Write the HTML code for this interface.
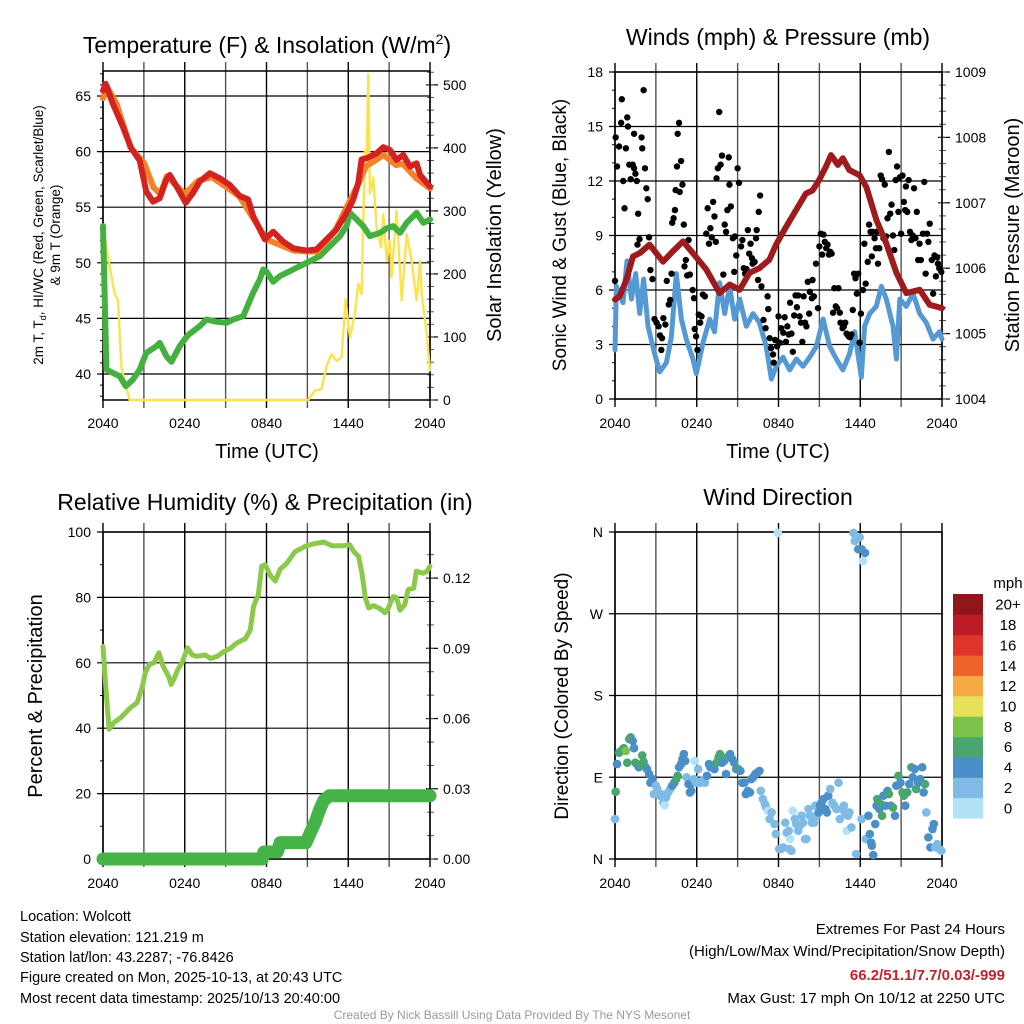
<!DOCTYPE html>
<html><head><meta charset="utf-8"><style>
html,body{margin:0;padding:0;background:#fff;}
svg{display:block;font-family:"Liberation Sans",sans-serif;}
</style></head><body>
<svg id="fig" width="1024" height="1024" viewBox="0 0 1024 1024" xmlns="http://www.w3.org/2000/svg">
<rect width="1024" height="1024" fill="#fff"/>
<g id="p1"></g>
<g id="p2"></g>
<g id="p3"></g>
<g id="p4"></g>
<g font-size="23" text-anchor="middle">
<text x="267" y="53">Temperature (F) &amp; Insolation (W/m<tspan font-size="14" dy="-9">2</tspan><tspan dy="9">)</tspan></text>
<text x="778" y="45">Winds (mph) &amp; Pressure (mb)</text>
<text x="265" y="510">Relative Humidity (%) &amp; Precipitation (in)</text>
<text x="778" y="505">Wind Direction</text>
</g>
<g text-anchor="middle">
<text x="267" y="458" font-size="20">Time (UTC)</text>
<text x="778" y="458" font-size="20">Time (UTC)</text>
<text font-size="13.5" transform="translate(43,235) rotate(-90)">2m T, T<tspan font-size="9" dy="3">d</tspan><tspan dy="-3">, HI/WC (Red, Green, Scarlet/Blue)</tspan></text>
<text font-size="13.5" transform="translate(60,235) rotate(-90)">&amp; 9m T (Orange)</text>
<text font-size="20" transform="translate(501,235) rotate(-90)">Solar Insolation (Yellow)</text>
<text font-size="19" transform="translate(566,235) rotate(-90)">Sonic Wind &amp; Gust (Blue, Black)</text>
<text font-size="20" transform="translate(1019,235) rotate(-90)">Station Pressure (Maroon)</text>
<text font-size="20" transform="translate(42,696) rotate(-90)">Percent &amp; Precipitation</text>
<text font-size="19" transform="translate(568,696) rotate(-90)">Direction (Colored By Speed)</text>
</g>
<g font-size="14.5">
<text x="20" y="921">Location: Wolcott</text>
<text x="20" y="942">Station elevation: 121.219 m</text>
<text x="20" y="962">Station lat/lon: 43.2287; -76.8426</text>
<text x="20" y="982">Figure created on Mon, 2025-10-13, at 20:43 UTC</text>
<text x="20" y="1003">Most recent data timestamp: 2025/10/13 20:40:00</text>
</g>
<g font-size="15" text-anchor="end">
<text x="1005" y="934">Extremes For Past 24 Hours</text>
<text x="1005" y="956">(High/Low/Max Wind/Precipitation/Snow Depth)</text>
<text x="1005" y="980" fill="#c8202a" font-weight="bold">66.2/51.1/7.7/0.03/-999</text>
<text x="1005" y="1003">Max Gust: 17 mph On 10/12 at 2250 UTC</text>
</g>
<text x="512" y="1019" font-size="12" fill="#999" text-anchor="middle">Created By Nick Bassill Using Data Provided By The NYS Mesonet</text>
</svg>
<script>
// ---- data (hours since 2040 UTC) ----
const tempT=[0,0.2,0.73,1.47,2.08,2.69,3.18,3.67,4.16,4.65,4.9,5.39,6.07,6.61,7.1,7.84,8.57,9.31,10.04,10.65,11.02,11.51,11.88,12.49,13.23,13.96,14.94,15.67,16.41,17.14,17.88,18.37,18.74,18.98,19.35,20.08,20.57,21.06,21.55,22.04,22.53,23.02,23.27,24];
const tempV=[65.5,66.1,64.3,62.2,60.3,59.2,56.4,55.5,55.8,57.5,57.9,56.9,55.4,56.3,57.3,58.05,57.6,57.0,56.0,55.7,54.2,53.0,52.1,52.8,51.9,51.3,51.1,51.2,52.1,53.0,54.5,55.7,57.2,59.3,59.4,59.85,60.4,60.15,59.25,59.7,58.65,58.95,57.9,56.85];
const t9T=[0,0.3,1,2,3,3.7,4.2,4.7,5.4,6,7,8,10,12,14,15.7,17,18,18.7,19.3,20.1,20.6,21.5,22,23,24];
const t9V=[64.8,65.8,64.3,60.4,59.0,56.8,56.2,57.8,56.9,56.2,57.4,57.7,56.0,52.1,51.1,51.0,52.8,55.3,57.0,58.7,59.3,59.7,58.8,58.9,57.6,56.7];
const dewT=[0,0.12,0.25,0.73,1.22,1.67,2.2,2.69,3.18,3.92,4.16,4.65,5.02,5.63,6.24,7.1,7.59,8.33,9.06,9.55,10.29,11.02,11.51,11.76,12.0,12.49,12.98,13.96,14.94,15.92,16.65,17.39,17.88,18.12,18.61,19.1,19.59,20.33,20.82,21.31,21.8,22.29,23.02,23.51,24];
const dewV=[53.3,47.3,40.4,40.1,39.8,38.9,39.5,40.4,41.9,42.5,42.8,41.6,41.1,42.5,43.5,44.3,44.9,44.7,44.6,44.9,45.2,47.3,48.5,49.4,49.2,48.3,48.8,49.4,50.0,50.6,51.5,52.4,53.3,54.5,53.9,53.3,52.4,52.7,53.1,53.3,52.7,53.6,54.5,53.6,53.9];
const solT=[0,0.49,0.86,1.1,1.35,1.71,1.96,15.06,15.55,16.04,16.41,16.78,17.14,17.51,17.8,18.12,18.49,18.73,18.98,19.22,19.35,19.47,19.59,19.84,20.08,20.41,20.57,20.82,21.06,21.18,21.55,21.92,22.29,22.65,23.02,23.27,23.39,23.76,24];
const solV=[274,211,168,158,52,20,0,0,15,17,54,73,62,68,160,99,137,184,168,396,380,517,327,353,274,242,295,221,253,195,300,158,263,221,158,221,168,105,47];
const presT=[0,0.34,0.83,1.32,1.81,2.54,3.52,4.26,4.99,5.72,6.7,7.68,8.41,9.15,9.88,10.6,11.33,11.82,12.55,13.29,14.0,14.5,14.99,15.48,15.85,16.36,16.72,17.2,17.96,18.45,19.18,19.91,20.65,21.38,22.36,23.1,24];
const presV=[1005.52,1005.57,1005.82,1006.18,1006.23,1006.36,1006.10,1006.26,1006.41,1006.23,1005.98,1005.62,1005.75,1005.67,1005.93,1006.0,1006.13,1006.36,1006.63,1006.89,1007.14,1007.19,1007.35,1007.55,1007.73,1007.58,1007.68,1007.50,1007.42,1007.24,1006.74,1006.38,1005.93,1005.62,1005.67,1005.44,1005.39];
const windT=[0,0.1,0.59,0.88,1.2,1.52,1.81,2.1,2.42,2.91,3.28,3.77,4.13,4.5,4.87,5.23,5.72,5.97,6.46,6.95,7.3,7.68,8.05,8.41,8.78,9.15,9.64,10.13,10.6,11.1,11.48,11.84,12.33,12.82,13.31,13.8,14.29,14.78,15.27,15.75,16.24,16.73,17.22,17.59,18.08,18.32,18.69,19.18,19.55,19.91,20.4,20.65,20.9,21.38,21.87,22.36,22.85,23.34,23.82,24];
const windV=[2.7,6.2,5.3,7.6,5.5,6.9,4.7,6.6,4.0,2.5,1.5,2.0,3.4,6.9,4.4,3.3,2.2,1.4,3.1,4.4,3.7,6.4,4.7,6.2,4.4,5.5,4.0,4.7,4.2,2.9,1.1,1.8,2.3,1.6,2.2,1.8,2.3,2.9,4.4,2.9,2.2,1.6,2.5,3.7,1.2,4.0,4.7,5.1,6.2,5.5,4.0,2.2,5.5,5.1,5.8,4.7,4.2,3.3,3.7,3.3];
const gustT=[0,0.05,0.15,0.3,0.45,0.5,0.6,0.7,0.8,0.9,0.95,1.05,1.15,1.3,1.4,1.4,1.5,1.6,1.7,1.8,1.65,1.95,2.0,2.1,2.2,2.3,2.4,2.5,2.6,2.75,2.9,3.05,3.2,3.3,3.4,3.45,3.55,3.7,3.8,3.95,4.05,4.15,4.2,4.3,4.4,4.45,4.55,4.6,4.7,4.75,4.85,4.95,5.05,5.1,5.2,5.3,5.4,5.5,5.7,5.8,5.85,5.95,6.05,6.15,6.25,6.35,6.45,6.6,6.7,6.8,6.9,7.0,7.1,7.2,7.3,7.4,7.45,7.55,7.65,7.75,7.85,7.95,8.05,8.15,8.25,8.35,8.4,8.5,8.65,8.75,8.8,8.9,9.0,9.1,9.25,9.35,9.45,9.55,9.65,9.75,9.85,9.95,10.05,10.1,10.25,10.35,10.4,10.5,10.55,10.65,10.75,10.9,11.05,11.2,11.25,11.35,11.45,11.6,11.65,11.75,11.9,12.0,12.1,12.2,12.35,12.45,12.55,12.65,12.75,12.85,12.95,13.05,13.15,13.25,13.35,13.45,13.55,13.65,13.75,13.85,13.95,14.05,14.15,14.25,14.3,14.45,14.5,14.6,14.75,14.9,15.0,15.1,15.2,15.3,15.4,15.5,15.6,15.7,15.8,15.9,16.0,16.1,16.2,16.3,16.4,16.5,16.55,16.7,16.8,16.9,17.0,17.05,17.15,17.25,17.35,17.45,17.55,17.65,17.75,17.85,17.95,18.05,18.2,18.3,18.4,18.55,18.65,18.75,18.85,18.9,19.05,19.15,19.2,19.3,19.4,19.5,19.6,19.7,19.8,19.9,20.0,20.1,20.2,20.3,20.4,20.5,20.6,20.7,20.8,20.9,21.0,21.1,21.2,21.3,21.35,21.45,21.55,21.65,21.75,21.85,21.95,22.05,22.15,22.25,22.35,22.45,22.6,22.7,22.8,22.9,23.0,23.1,23.25,23.35,23.45,23.55,23.65,23.7,23.8,23.95];
const gustV=[6.5,14.4,12.8,13.9,15.2,16.5,12.0,10.5,13.8,15.5,15.0,12.9,12.1,12.9,12.7,14.6,12.4,12.0,10.2,8.8,8.5,14.4,13.8,17.0,12.7,11.6,11.0,8.9,7.1,6.6,4.4,4.2,4.0,3.5,2.7,3.35,4.45,4.1,6.5,5.2,5.45,6.9,9.7,9.95,10.4,11.5,12.8,14.6,15.2,11.4,13.1,11.8,9.6,7.3,7.65,6.8,8.75,6.85,6.0,5.55,3.85,3.45,2.7,4.65,4.2,4.55,5.75,5.65,9.1,10.5,8.55,9.4,8.9,10.85,10.05,8.65,12.15,12.7,15.8,12.9,13.4,6.85,9.6,9.2,10.4,13.3,11.8,10.6,8.85,7.0,8.95,7.9,12.7,11.9,8.4,8.75,7.2,6.9,7.15,9.3,8.0,8.55,7.75,7.45,7.55,8.85,9.3,6.55,10.3,11.2,6.2,4.35,3.9,5.65,4.95,3.35,2.8,2.45,2.0,3.25,2.9,4.55,3.1,3.9,3.65,4.5,3.15,4.0,3.55,5.3,3.6,2.6,4.6,5.7,5.05,5.7,4.55,4.2,3.15,5.65,4.2,4.0,6.45,4.7,5.9,5.55,6.55,5.65,7.45,5.0,8.4,9.1,7.95,9.05,8.65,8.3,8.5,7.95,8.1,8.0,4.75,6.1,5.1,5.0,6.1,4.75,4.2,3.9,4.0,4.2,3.6,3.55,3.45,3.4,3.55,4.9,6.9,6.65,5.8,6.9,3.1,4.7,6.0,8.55,6.35,7.55,9.6,9.2,7.85,9.2,8.85,8.3,9.2,7.45,8.3,12.3,12.1,8.85,11.8,8.95,9.95,13.6,10.2,10.7,9.0,8.2,12.05,12.8,10.3,12.2,9.1,12.3,10.85,10.4,11.7,10.3,12.05,9.2,8.75,9.0,11.6,8.85,10.3,7.65,8.55,7.65,9.1,11.95,6.9,9.1,8.65,9.65,7.65,5.8,7.9,6.75,7.8,7.45,7.2,7.0];
const rhT=[0,0.2,0.45,0.8,1.3,1.65,2.0,2.5,2.9,3.1,3.4,3.75,4.1,4.4,4.8,5.0,5.2,5.5,5.8,6.2,6.55,6.9,7.5,7.9,8.4,8.85,9.35,9.8,10.45,10.8,11.05,11.4,11.65,11.9,12.3,12.65,13.0,13.5,14.1,14.85,15.45,16.2,16.8,17.65,18.1,18.4,18.75,19.0,19.25,19.5,19.85,20.35,20.7,20.95,21.3,21.55,21.8,22.15,22.4,22.8,23.0,23.5,23.75,24];
const rhV=[65,52.9,39.7,41.7,43.2,44.7,46.2,47.8,52.9,56.9,59.5,60,63.1,59,56,53.4,55,58,60,64.6,62.4,62,62.4,61.3,62,63.4,64.4,66,67.4,70,77.3,80.8,89.5,90,86.6,85,88.6,90.5,94,95.6,96.4,96.9,95.8,95.8,96.1,94,92.6,87.5,79.9,76.8,77.5,76.5,75.3,76.8,80.2,79.9,76.1,77.8,82.4,82.8,88,87.4,87.9,89.5];
const prcT=[0,11.7,11.8,12.8,13.0,14.9,15.2,15.6,15.9,16.2,16.6,24];
const prcV=[0,0,0.003,0.003,0.007,0.007,0.011,0.016,0.021,0.025,0.027,0.027];
const dirT=[0,0.05,0.15,0.3,0.45,0.65,0.8,0.9,1.05,1.15,1.3,1.4,1.5,1.6,1.75,1.9,2.0,2.1,2.25,2.35,2.5,2.6,2.75,2.85,3.0,3.1,3.3,3.4,3.55,3.65,3.75,3.9,4.05,4.2,4.35,4.5,4.6,4.7,4.85,4.95,5.05,5.15,5.25,5.4,5.5,5.6,5.7,5.8,5.85,5.95,6.1,6.25,6.4,6.6,6.75,6.9,7.0,7.15,7.3,7.45,7.6,7.7,7.85,8.0,8.15,8.3,8.45,8.6,8.75,8.9,9.05,9.2,9.35,9.5,9.6,9.75,9.9,10.0,10.15,10.3,10.45,10.6,10.7,10.85,11.0,11.1,11.25,11.35,11.5,11.7,11.8,11.95,12.05,12.2,12.35,12.5,12.6,12.75,12.8,12.85,12.95,13.05,13.2,13.3,13.45,13.55,13.7,13.8,13.95,14.05,14.2,14.3,14.45,14.6,14.7,14.8,14.95,15.05,15.15,15.3,15.45,15.55,15.65,15.8,15.95,16.1,16.25,16.4,16.5,16.65,16.8,16.9,17.0,17.1,17.2,17.35,17.5,17.6,17.7,17.85,17.95,18.1,18.2,18.35,17.7,18.1,18.4,18.6,18.7,18.8,18.85,18.95,19.1,19.2,19.25,19.4,19.5,19.6,19.7,19.85,20.0,20.1,20.25,20.4,20.55,20.65,20.8,20.95,21.1,21.2,21.3,21.45,21.6,21.75,21.85,22.0,22.1,22.25,22.4,22.55,22.65,22.75,22.85,23.0,23.15,23.3,23.4,23.5,23.65,23.8,23.95];
const dirV=[44,74,104.5,117,119,122,119,106,132,134,130,122,106,104.5,101,103,114,107,101,99,93.5,84,88,71.5,80.7,77,69.7,71.5,62,59.4,67.8,73.3,77,80.7,84,88,91.6,101,104.5,110,115.5,108,90,82.5,73.3,75,84,88,108,84,99,84,86,84,91.6,104.5,101,103,99,106,112,115.5,106,108,93.5,113,115.5,110,106,99,99,97,84,84,71.5,75,73.3,88,90,93.5,95,97,75,66,60.5,56.8,53,44,51.3,38.5,27.5,359,11,11,12.8,40,29,31,11,22,9,53,44,38.5,31,36.7,47.7,40,22,22,55,47.7,40,40,58.7,47.7,51.3,58.7,62,66,55,51.3,69.7,77,62,58.7,55,84,44,55,58.7,49.5,31,47.7,51.3,34.8,359,350,354,341,354,341,328,337,5.5,44,22,47.7,27.5,18,14.7,4.4,38.5,58.7,66,55,60.5,47.7,69.7,58.7,75,71.5,58.7,56.8,47.7,80.7,91.6,84,73.3,69.7,58.7,73.3,82.5,101,90,99,77,84,88,101,73.3,82.5,51.3,23.8,12.8,33,38.5,12.8,16.5,11,9];
const dirS=[3,7,5,7,7,7,9,7,7,7, 5,5,7,7,5,7,7,7,7,5, 5,5,5,3,3,3,3,3,3,1, 3,3,3,5,5,7,7,5,5,5, 5,5,3,5,5,5,5,3,1,3, 3,3,3,3,5,5,5,5,5,7, 7,7,5,5,5,7,5,5,5,5, 7,5,5,5,5,5,5,5,5,5, 5,5,3,3,3,3,1,3,3,3, 3,1,3,3,3,3,3,3,3,1, 3,1,3,3,3,3,3,3,3,3, 3,3,3,3,3,3,5,5,5,5, 5,5,5,3,3,3,3,3,3,3, 3,3,1,3,3,3,3,3,3,5, 3,5,1,5,3,3,3,5,5,5, 5,5,5,5,7,5,7,7,5,5, 5,7,5,7,5,5,7,5,7,7, 5,7,5,7,5,5,7,5,5,5, 5,7,3,5,5,5,5,3,3,3,3];
const spdBins=["0","2","4","6","8","10","12","14","16","18","20+"];
const spdColors=["#b3e2f7","#7fbbe5","#4a8fc8","#4aa66f","#7cc24b","#e7e15a","#f6a944","#ef632b","#dd352a","#bd1c26","#91161b"];
const hourTicks=[0,3,6,9,12,15,18,21,24];
const hourLabels=["2040","0240","0840","1440","2040"];

const NS="http://www.w3.org/2000/svg";
function mk(par,tag,att){const e=document.createElementNS(NS,tag);for(const k in att)e.setAttribute(k,att[k]);par.appendChild(e);return e;}
function lin(d0,d1,r0,r1){return v=>r0+(v-d0)*(r1-r0)/(d1-d0);}
function txt(par,x,y,s,anchor,size,name){const t=mk(par,'text',{x:x,y:y,'font-size':size||14,'text-anchor':anchor||'middle'});t.textContent=s;

return t;}

function frame(g,X0,X1,Y0,Y1,sx,left,leftTicks,leftFmt,leftMinor,right,rightTicks,rightFmt,rightMinor,pid){
  hourTicks.forEach((h,i)=>{const x=sx(h);
    const l=mk(g,'line',{x1:x,x2:x,y1:Y0-9,y2:Y1+8,stroke:(i%2? '#555':'#000'),'stroke-width':1.4});
    
    });
  leftTicks.forEach(v=>{const y=left(v);
    const l=mk(g,'line',{x1:X0-6,x2:X1,y1:y,y2:y,stroke:'#000','stroke-width':1.2});
    
    
    txt(g,X0-12,y+5,leftFmt(v),'end',14,pid+'-left-tick-label');});
  leftMinor.forEach(v=>{const y=left(v);const l=mk(g,'line',{x1:X0-3,x2:X0,y1:y,y2:y,stroke:'#000','stroke-width':1});
    
    });
  if(right){rightTicks.forEach(v=>{const y=right(v);
    const l=mk(g,'line',{x1:X1-4,x2:X1+8,y1:y,y2:y,stroke:'#000','stroke-width':1.2});
    
    
    txt(g,X1+13,y+5,rightFmt(v),'start',14,pid+'-right-tick-label');});
    rightMinor.forEach(v=>{const y=right(v);const l=mk(g,'line',{x1:X1-3,x2:X1+4,y1:y,y2:y,stroke:'#555','stroke-width':1});
    
    });}
  const b=mk(g,'rect',{x:X0,y:Y0,width:X1-X0,height:Y1-Y0,fill:'none',stroke:'#000','stroke-width':1.5});
  
  
}
function xlabels(g,sx,y,pid){hourLabels.forEach((s,i)=>txt(g,sx(i*6),y,s,'middle',14,pid+'-x-tick-label'));}
function line(g,T,V,sx,sy,color,w,name){const d=T.map((t,i)=>(i?'L':'M')+sx(t).toFixed(1)+','+sy(V[i]).toFixed(1)).join('');
  const p=mk(g,'path',{d:d,fill:'none',stroke:color,'stroke-width':w,'stroke-linejoin':'round','stroke-linecap':'round'});
  
  return p;}
function range(a,b,s){const r=[];for(let v=a;v<=b+1e-9;v+=s)r.push(+v.toFixed(4));return r;}

// Panel 1
(function(){const g=document.getElementById('p1');const X0=103,X1=430,Y0=71,Y1=400;
 const sx=lin(0,24,X0,X1),sy=lin(37.66,67.25,Y1,Y0),sr=lin(0,522,Y1,Y0);
 frame(g,X0,X1,Y0,Y1,sx,sy,[40,45,50,55,60,65],v=>String(v),range(38,67,1),sr,[0,100,200,300,400,500],v=>String(v),range(0,520,20),'p1');
 xlabels(g,sx,428,'p1');
 line(g,solT,solV,sx,sr,'#fde24f',2.4,'solar-insolation-line');
 line(g,dewT,dewV,sx,sy,'#44b03f',6,'dewpoint-line');
 line(g,t9T,t9V,sx,sy,'#f4812b',6,'temp-9m-line');
 line(g,tempT,tempV,sx,sy,'#d3221f',6,'temp-2m-line');
})();
// Panel 2
(function(){const g=document.getElementById('p2');const X0=615,X1=942,Y0=72,Y1=399;
 const sx=lin(0,24,X0,X1),sy=lin(0,18,Y1,Y0),sp=lin(1004,1009,Y1,Y0);
 frame(g,X0,X1,Y0,Y1,sx,sy,[0,3,6,9,12,15,18],v=>String(v),range(0,18,1),sp,[1004,1005,1006,1007,1008,1009],v=>String(v),range(1004,1009,0.2),'p2');
 xlabels(g,sx,428,'p2');
 line(g,windT,windV,sx,sy,'#5599d4',5,'sonic-wind-line');
 gustT.forEach((t,i)=>{const c=mk(g,'circle',{cx:sx(t),cy:sy(gustV[i]),r:3.2,fill:'#000'});
  
  });
 line(g,presT,presV,sx,sp,'#9e1b1d',6,'station-pressure-line');
})();
// Panel 3
(function(){const g=document.getElementById('p3');const X0=103,X1=430,Y0=532,Y1=859;
 const sx=lin(0,24,X0,X1),sy=lin(0,100,Y1,Y0),sp=lin(0,0.1397,Y1,Y0);
 frame(g,X0,X1,Y0,Y1,sx,sy,[0,20,40,60,80,100],v=>String(v),range(0,100,10),sp,[0,0.03,0.06,0.09,0.12],v=>v.toFixed(2),range(0,0.135,0.01),'p3');
 xlabels(g,sx,888,'p3');
 line(g,rhT,rhV,sx,sy,'#8cc94b',5,'relative-humidity-line');
 line(g,prcT,prcV,sx,sp,'#46b346',13,'precipitation-line');
})();
// Panel 4
(function(){const g=document.getElementById('p4');const X0=615,X1=942,Y0=532,Y1=859;
 const sx=lin(0,24,X0,X1),sy=lin(0,360,Y1,Y0);
 frame(g,X0,X1,Y0,Y1,sx,sy,[0,90,180,270,360],v=>({0:'N',90:'E',180:'S',270:'W',360:'N'})[v],[],null,[],null,[],'p4');
 xlabels(g,sx,888,'p4');
 const n=Math.min(dirT.length,dirV.length);
 for(let i=0;i<n;i++){const s=(dirS[i]===undefined)?5:dirS[i];const bin=Math.min(10,Math.floor(s/2));
  const c=mk(g,'circle',{cx:sx(dirT[i]),cy:sy(dirV[i]),r:4.3,fill:spdColors[bin]});
  
  }
 const cb=mk(g,'g',{});
 
 
 const top=594,h=224/11;
 txt(cb,1008,588,'mph','middle',15,'colorbar-unit');
 spdBins.forEach((s,i)=>{const y=top+(10-i)*h;
  const r=mk(cb,'rect',{x:953,y:y,width:30,height:h+0.5,fill:spdColors[i]});
  
  
  txt(cb,1008,y+h/2+5.5,s,'middle',15,'colorbar-label');});
})();
</script>
</body></html>
